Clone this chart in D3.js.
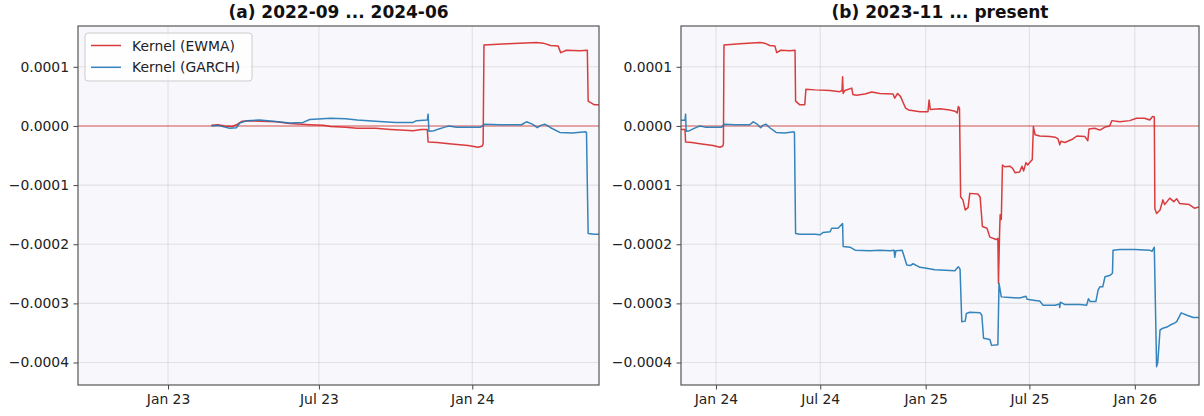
<!DOCTYPE html>
<html>
<head>
<meta charset="utf-8">
<script src="https://cdn.jsdelivr.net/npm/d3@7"></script>
<style>
  body { margin: 0; background: #fff; }
  svg { display: block; }
  text { font-family: "DejaVu Sans", sans-serif; }
</style>
</head>
<body>
<svg id="chart" width="1204" height="416"></svg>
<script>
// Kernel (EWMA) estimate over time
const ewmaDates = [
  "2023-02-22","2023-03-02","2023-03-10","2023-03-19","2023-03-24","2023-03-31","2023-04-09","2023-04-21",
  "2023-05-11","2023-05-27","2023-06-20","2023-07-06","2023-07-15","2023-08-02","2023-08-16","2023-09-07",
  "2023-09-25","2023-10-07","2023-10-22","2023-11-01","2023-11-08","2023-11-09","2023-11-20","2023-12-04",
  "2023-12-27","2024-01-08","2024-01-13","2024-01-14","2024-01-15","2024-02-12","2024-03-18","2024-03-26",
  "2024-04-04","2024-04-13","2024-04-16","2024-04-23","2024-05-09","2024-05-18","2024-05-19","2024-05-26",
  "2024-06-04","2024-06-06","2024-06-22","2024-07-18","2024-08-04","2024-08-08","2024-08-09","2024-08-10",
  "2024-08-13","2024-08-25","2024-08-27","2024-09-02","2024-09-17","2024-09-29","2024-10-13","2024-11-05",
  "2024-11-08","2024-11-13","2024-11-18","2024-11-27","2024-12-02","2024-12-22","2025-01-05","2025-01-07",
  "2025-01-09","2025-01-26","2025-02-12","2025-02-21","2025-02-25","2025-02-27","2025-03-01","2025-03-03",
  "2025-03-07","2025-03-11","2025-03-16","2025-03-19","2025-04-02","2025-04-06","2025-04-10","2025-04-18",
  "2025-04-23","2025-05-04","2025-05-07","2025-05-08","2025-05-10","2025-05-11","2025-05-13","2025-05-15",
  "2025-05-19","2025-05-28","2025-06-02","2025-06-06","2025-06-14","2025-06-18","2025-06-21","2025-06-25",
  "2025-06-28","2025-07-03","2025-07-06","2025-07-08","2025-07-11","2025-07-19","2025-08-06","2025-08-15",
  "2025-08-20","2025-08-23","2025-08-25","2025-09-01","2025-09-15","2025-09-22","2025-10-06","2025-10-11",
  "2025-10-13","2025-10-23","2025-11-01","2025-11-10","2025-11-18","2025-11-22","2025-12-06","2025-12-23",
  "2026-01-04","2026-01-18","2026-01-27","2026-02-01","2026-02-04","2026-02-05","2026-02-08","2026-02-14",
  "2026-02-19","2026-02-22","2026-03-03","2026-03-10","2026-03-15","2026-03-20","2026-04-06","2026-04-15",
  "2026-04-23"
];
const ewmaValues = [
  0.01e-4, 0.02e-4, 0.00e-4, -0.01e-4, 0.02e-4, 0.08e-4, 0.09e-4, 0.08e-4,
  0.07e-4, 0.04e-4, 0.02e-4, 0.01e-4, -0.01e-4, -0.02e-4, -0.04e-4, -0.04e-4,
  -0.06e-4, -0.07e-4, -0.08e-4, -0.06e-4, -0.06e-4, -0.27e-4, -0.28e-4, -0.30e-4,
  -0.33e-4, -0.36e-4, -0.34e-4, -0.30e-4, 1.37e-4, 1.39e-4, 1.41e-4, 1.40e-4,
  1.36e-4, 1.35e-4, 1.24e-4, 1.28e-4, 1.27e-4, 1.28e-4, 0.42e-4, 0.36e-4,
  0.36e-4, 0.62e-4, 0.61e-4, 0.60e-4, 0.58e-4, 0.60e-4, 0.83e-4, 0.55e-4,
  0.60e-4, 0.64e-4, 0.53e-4, 0.52e-4, 0.54e-4, 0.575e-4, 0.55e-4, 0.54e-4,
  0.47e-4, 0.55e-4, 0.50e-4, 0.30e-4, 0.27e-4, 0.24e-4, 0.24e-4, 0.44e-4,
  0.28e-4, 0.29e-4, 0.27e-4, 0.25e-4, 0.22e-4, 0.33e-4, 0.30e-4, -1.20e-4,
  -1.25e-4, -1.42e-4, -1.38e-4, -1.14e-4, -1.15e-4, -1.20e-4, -1.70e-4, -1.73e-4,
  -1.88e-4, -1.92e-4, -1.90e-4, -2.66e-4, -1.80e-4, -1.50e-4, -1.58e-4, -0.66e-4,
  -0.69e-4, -0.68e-4, -0.72e-4, -0.79e-4, -0.78e-4, -0.68e-4, -0.76e-4, -0.62e-4,
  -0.66e-4, -0.60e-4, -0.57e-4, -0.01e-4, -0.15e-4, -0.17e-4, -0.18e-4, -0.19e-4,
  -0.22e-4, -0.32e-4, -0.26e-4, -0.28e-4, -0.22e-4, -0.17e-4, -0.18e-4, -0.25e-4,
  -0.05e-4, -0.04e-4, -0.07e-4, -0.02e-4, 0.00e-4, 0.09e-4, 0.07e-4, 0.09e-4,
  0.13e-4, 0.13e-4, 0.10e-4, 0.16e-4, 0.15e-4, -1.40e-4, -1.48e-4, -1.42e-4,
  -1.25e-4, -1.33e-4, -1.22e-4, -1.28e-4, -1.23e-4, -1.31e-4, -1.33e-4, -1.39e-4,
  -1.37e-4
];

// Kernel (GARCH) estimate over time
const garchDates = [
  "2023-02-22","2023-03-02","2023-03-10","2023-03-16","2023-03-24","2023-03-28","2023-04-06","2023-04-21",
  "2023-05-07","2023-05-27","2023-06-12","2023-06-20","2023-07-15","2023-08-02","2023-08-16","2023-09-07",
  "2023-10-01","2023-10-22","2023-10-26","2023-11-08","2023-11-09","2023-11-10","2023-11-16","2023-11-22",
  "2023-11-29","2023-12-04","2023-12-13","2023-12-30","2024-01-11","2024-01-16","2024-02-03","2024-02-29",
  "2024-03-06","2024-03-13","2024-03-19","2024-03-23","2024-03-28","2024-04-04","2024-04-15","2024-04-30",
  "2024-05-16","2024-05-17","2024-05-18","2024-05-19","2024-05-26","2024-06-22","2024-07-01","2024-07-06",
  "2024-07-18","2024-07-21","2024-08-01","2024-08-09","2024-08-10","2024-08-22","2024-08-31","2024-09-26",
  "2024-10-13","2024-10-31","2024-11-07","2024-11-08","2024-11-10","2024-11-21","2024-11-29","2024-12-05",
  "2024-12-10","2024-12-22","2024-12-31","2025-01-17","2025-02-04","2025-02-21","2025-02-27","2025-03-02",
  "2025-03-05","2025-03-11","2025-03-13","2025-03-19","2025-04-06","2025-04-09","2025-04-12","2025-04-23",
  "2025-04-26","2025-05-07","2025-05-09","2025-05-13","2025-05-28","2025-06-14","2025-06-25","2025-06-27",
  "2025-07-11","2025-07-19","2025-07-25","2025-08-15","2025-08-22","2025-08-23","2025-08-24","2025-09-01",
  "2025-09-27","2025-10-09","2025-10-12","2025-10-15","2025-10-25","2025-10-29","2025-11-01","2025-11-06",
  "2025-11-10","2025-11-18","2025-11-23","2025-11-24","2025-12-06","2026-01-01","2026-01-27","2026-01-31",
  "2026-02-04","2026-02-08","2026-02-10","2026-02-14","2026-02-19","2026-02-26","2026-03-03","2026-03-12",
  "2026-03-15","2026-03-23","2026-04-02","2026-04-13","2026-04-23"
];
const garchValues = [
  0.00e-4, 0.01e-4, -0.02e-4, -0.04e-4, -0.03e-4, 0.05e-4, 0.09e-4, 0.10e-4,
  0.08e-4, 0.05e-4, 0.06e-4, 0.11e-4, 0.13e-4, 0.12e-4, 0.10e-4, 0.08e-4,
  0.06e-4, 0.06e-4, 0.09e-4, 0.10e-4, 0.20e-4, -0.09e-4, -0.08e-4, -0.05e-4,
  -0.02e-4, 0.00e-4, -0.02e-4, -0.02e-4, -0.02e-4, 0.03e-4, 0.02e-4, 0.02e-4,
  0.07e-4, 0.03e-4, -0.03e-4, 0.01e-4, 0.03e-4, -0.03e-4, -0.11e-4, -0.12e-4,
  -0.10e-4, -0.11e-4, -1.00e-4, -1.82e-4, -1.83e-4, -1.83e-4, -1.84e-4, -1.80e-4,
  -1.79e-4, -1.73e-4, -1.73e-4, -1.65e-4, -2.04e-4, -2.05e-4, -2.10e-4, -2.11e-4,
  -2.10e-4, -2.11e-4, -2.10e-4, -2.22e-4, -2.11e-4, -2.10e-4, -2.35e-4, -2.36e-4,
  -2.33e-4, -2.39e-4, -2.40e-4, -2.43e-4, -2.44e-4, -2.45e-4, -2.38e-4, -2.42e-4,
  -3.31e-4, -3.30e-4, -3.17e-4, -3.15e-4, -3.16e-4, -3.20e-4, -3.59e-4, -3.61e-4,
  -3.71e-4, -3.70e-4, -2.66e-4, -2.89e-4, -2.90e-4, -2.91e-4, -2.88e-4, -2.93e-4,
  -2.95e-4, -2.96e-4, -3.03e-4, -3.03e-4, -3.01e-4, -3.07e-4, -2.98e-4, -3.02e-4,
  -3.02e-4, -3.03e-4, -2.92e-4, -2.97e-4, -2.97e-4, -2.77e-4, -2.72e-4, -2.72e-4,
  -2.55e-4, -2.53e-4, -2.49e-4, -2.10e-4, -2.09e-4, -2.09e-4, -2.10e-4, -2.12e-4,
  -2.05e-4, -4.07e-4, -4.00e-4, -3.45e-4, -3.42e-4, -3.40e-4, -3.37e-4, -3.33e-4,
  -3.31e-4, -3.16e-4, -3.20e-4, -3.24e-4, -3.24e-4
];

// Panel windows and tick labels
const panelTitles = ["(a) 2022-09 ... 2024-06", "(b) 2023-11 ... present"];
const panelStarts = ["2022-09-15", "2023-11-01"];
const panelEnds   = ["2024-06-01", "2026-04-23"];
const panelTicks  = [
  ["2023-01-01", "2023-07-01", "2024-01-01"],
  ["2024-01-01", "2024-07-01", "2025-01-01", "2025-07-01", "2026-01-01"]
];
const yTicks = [1e-4, 0, -1e-4, -2e-4, -3e-4, -4e-4];
const yDomain = [-4.38e-4, 1.69e-4];
const seriesNames = ["Kernel (EWMA)", "Kernel (GARCH)"];
const seriesColors = ["#d62728", "#1f77b4"];

const parse = d3.utcParse("%Y-%m-%d");
const series = [
  ewmaDates.map((d, i) => ({ date: parse(d), value: ewmaValues[i] })),
  garchDates.map((d, i) => ({ date: parse(d), value: garchValues[i] }))
];

const svg = d3.select("#chart");
const plotTop = 26, plotBottom = 385;
const panelX = [[78, 599], [681, 1199]];

const y = d3.scaleLinear().domain(yDomain).range([plotBottom, plotTop]);
const fmtY = v => d3.format(".4f")(v).replace("-", "\u2212");
const fmtX = d3.utcFormat("%b %y");

panelTitles.forEach((title, p) => {
  const [x0, x1] = panelX[p];
  const x = d3.scaleUtc()
    .domain([parse(panelStarts[p]), parse(panelEnds[p])])
    .range([x0, x1]);
  const g = svg.append("g");

  // plot background
  g.append("rect").attr("x", x0).attr("y", plotTop)
    .attr("width", x1 - x0).attr("height", plotBottom - plotTop)
    .attr("fill", "#f8f8fc");

  // grid
  const ticksX = panelTicks[p].map(parse);
  g.append("g").selectAll("line").data(ticksX).join("line")
    .attr("x1", d => x(d)).attr("x2", d => x(d))
    .attr("y1", plotTop).attr("y2", plotBottom)
    .attr("stroke", "#b0b0b0").attr("stroke-opacity", 0.3).attr("stroke-width", 1.1);
  g.append("g").selectAll("line").data(yTicks).join("line")
    .attr("x1", x0).attr("x2", x1)
    .attr("y1", d => y(d)).attr("y2", d => y(d))
    .attr("stroke", "#b0b0b0").attr("stroke-opacity", 0.3).attr("stroke-width", 1.1);

  // zero reference
  g.append("line").attr("x1", x0).attr("x2", x1)
    .attr("y1", y(0)).attr("y2", y(0))
    .attr("stroke", "#d62728").attr("stroke-opacity", 0.5).attr("stroke-width", 1.4);

  // series lines, clipped to the panel
  const clipId = "clip" + p;
  svg.append("clipPath").attr("id", clipId).append("rect")
    .attr("x", x0).attr("y", plotTop).attr("width", x1 - x0).attr("height", plotBottom - plotTop);
  const line = d3.line().x(d => x(d.date)).y(d => y(d.value));
  const lines = g.append("g").attr("clip-path", `url(#${clipId})`);
  series.forEach((s, i) => {
    lines.append("path").datum(s)
      .attr("d", line)
      .attr("fill", "none")
      .attr("stroke", seriesColors[i])
      .attr("stroke-opacity", 0.9)
      .attr("stroke-width", 1.5)
      .attr("stroke-linejoin", "round");
  });

  // axes
  const xAxis = d3.axisBottom(x).tickValues(ticksX).tickFormat(fmtX)
    .tickSize(4.5).tickPadding(4.5);
  const ax = g.append("g").attr("transform", `translate(0,${plotBottom})`).call(xAxis);
  const yAxis = d3.axisLeft(y).tickValues(yTicks).tickFormat(fmtY)
    .tickSize(4.5).tickPadding(4.5);
  const ay = g.append("g").attr("transform", `translate(${x0},0)`).call(yAxis);
  [ax, ay].forEach(a => {
    a.select(".domain").remove();
    a.selectAll(".tick line").attr("stroke", "#444").attr("stroke-width", 1);
    a.selectAll(".tick text").attr("fill", "#222")
      .style("font-size", "13.9px").style("font-family", "DejaVu Sans, sans-serif");
  });

  // spines
  g.append("rect").attr("x", x0).attr("y", plotTop)
    .attr("width", x1 - x0).attr("height", plotBottom - plotTop)
    .attr("fill", "none").attr("stroke", "#555").attr("stroke-width", 1.2);

  // title
  g.append("text").attr("x", (x0 + x1) / 2).attr("y", 18)
    .attr("text-anchor", "middle").attr("font-weight", "bold")
    .attr("fill", "#111").style("font-size", "17px")
    .text(title);

  // legend in the first panel
  if (p === 0) {
    const lg = g.append("g");
    lg.append("rect").attr("x", 85).attr("y", 33).attr("width", 167).attr("height", 48)
      .attr("rx", 3).attr("fill", "#fff").attr("fill-opacity", 0.8)
      .attr("stroke", "#cccccc").attr("stroke-width", 1);
    seriesNames.forEach((name, i) => {
      const ly = 45.5 + i * 21.8;
      lg.append("line").attr("x1", 91).attr("x2", 121).attr("y1", ly).attr("y2", ly)
        .attr("stroke", seriesColors[i]).attr("stroke-opacity", 0.9).attr("stroke-width", 1.5);
      lg.append("text").attr("x", 132).attr("y", ly + 5)
        .attr("fill", "#222").style("font-size", "13.9px").text(name);
    });
  }
});
</script>
</body>
</html>
